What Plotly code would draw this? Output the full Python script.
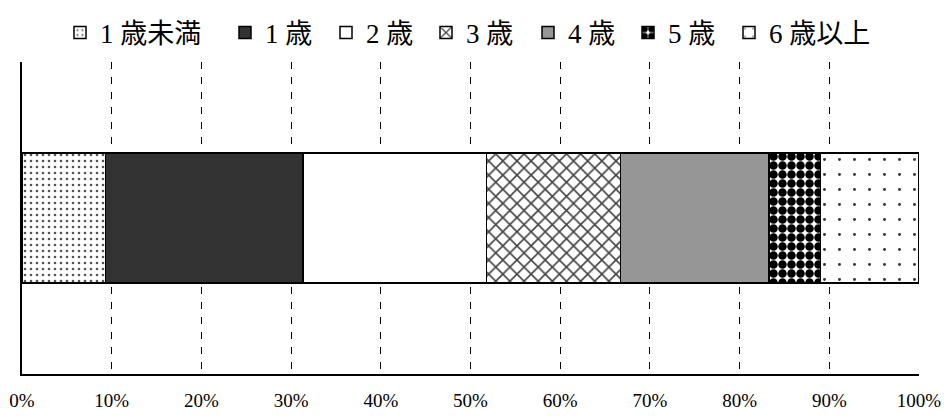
import plotly.graph_objects as go

categories = [""]
series_names = ["1 歳未満", "1 歳", "2 歳", "3 歳", "4 歳", "5 歳", "6 歳以上"]
series_values = [9.3, 22.0, 20.5, 14.9, 16.6, 5.7, 11.0]
tick_vals = [0, 10, 20, 30, 40, 50, 60, 70, 80, 90, 100]
tick_labels = ["0%", "10%", "20%", "30%", "40%", "50%", "60%", "70%", "80%", "90%", "100%"]
legend_symbol_px = [67, 232, 333, 433, 535, 635, 736]

styles = [
    dict(color="white", pattern=dict(shape=".", fgcolor="#555555", bgcolor="white", size=6, solidity=0.15, fgopacity=1)),
    dict(color="#333333"),
    dict(color="white"),
    dict(color="white", pattern=dict(shape="x", fgcolor="#444444", bgcolor="white", size=10, solidity=0.3, fgopacity=1)),
    dict(color="#969696"),
    dict(color="black", pattern=dict(shape=".", fgcolor="black", bgcolor="white", size=9, solidity=0.7, fgopacity=1)),
    dict(color="white", pattern=dict(shape=".", fgcolor="#333333", bgcolor="white", size=15, solidity=0.03, fgopacity=1)),
]

FONT = "Liberation Serif, Noto Sans CJK JP, serif"
W, H = 944, 419

fig = go.Figure()
legend_layout = {}
for i, (name, val, st, sx) in enumerate(zip(series_names, series_values, styles, legend_symbol_px)):
    marker = dict(line=dict(color="black", width=1.5))
    marker.update(st)
    lid = "legend" if i == 0 else f"legend{i + 1}"
    fig.add_trace(go.Bar(
        x=[val], y=categories, name=name, orientation="h",
        width=0.417, marker=marker, legend=lid,
    ))
    legend_layout[lid] = dict(
        orientation="h", xref="container", yref="container",
        x=(sx - 7) / W, xanchor="left", y=1 - 33 / H, yanchor="middle",
        font=dict(size=27, family=FONT), bgcolor="rgba(0,0,0,0)",
        itemwidth=30,
    )

fig.update_layout(
    width=W, height=H,
    barmode="stack",
    plot_bgcolor="white", paper_bgcolor="white",
    margin=dict(l=22, r=25, t=62, b=45, autoexpand=False),
    font=dict(family=FONT, color="black"),
    showlegend=True,
    **legend_layout,
)
fig.update_xaxes(
    range=[0, 100], tickvals=tick_vals, ticktext=tick_labels,
    showgrid=True, gridcolor="black", gridwidth=1, griddash="7px,8px",
    showline=True, linecolor="black", linewidth=1.5,
    zeroline=False, ticks="", ticklabelstandoff=8, automargin=False,
    tickfont=dict(size=19, family=FONT),
)
fig.update_yaxes(
    showline=True, linecolor="black", linewidth=1.5, automargin=False,
    showticklabels=False, showgrid=False, zeroline=False, ticks="",
)

fig.write_html("out.html")
